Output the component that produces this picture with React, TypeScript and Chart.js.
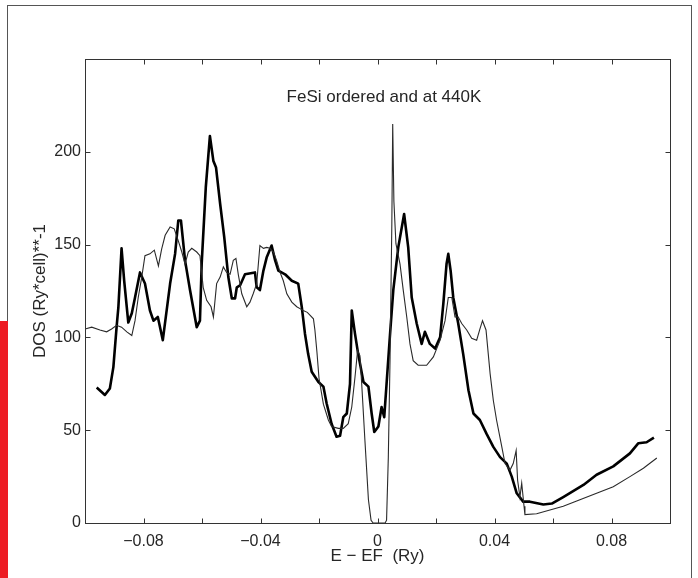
import React, { useEffect, useRef } from "react";
import { Chart, registerables } from "chart.js";

Chart.register(...registerables);

// Ordered FeSi (thick curve): energy E - EF (Ry) and DOS
const thickE = [
  -0.0960, -0.0932, -0.0915, -0.0903, -0.0892, -0.0886, -0.0875, -0.0866, -0.0852, -0.0840,
  -0.0829, -0.0812, -0.0795, -0.0778, -0.0766, -0.0751, -0.0734, -0.0709, -0.0692, -0.0681,
  -0.0672, -0.0658, -0.0641, -0.0618, -0.0607, -0.0601, -0.0587, -0.0573, -0.0561, -0.0552,
  -0.0538, -0.0524, -0.0510, -0.0498, -0.0487, -0.0481, -0.0470, -0.0453, -0.0419, -0.0413,
  -0.0402, -0.0390, -0.0379, -0.0362, -0.0350, -0.0339, -0.0316, -0.0293, -0.0271, -0.0259,
  -0.0248, -0.0237, -0.0225, -0.0202, -0.0185, -0.0174, -0.0157, -0.0140, -0.0128, -0.0117,
  -0.0105, -0.0094, -0.0088, -0.0077, -0.0066, -0.0048, -0.0031, -0.0020, -0.0011, 0.0003,
  0.0014, 0.0023, 0.0031, 0.0043, 0.0054, 0.0071, 0.0091, 0.0105, 0.0117, 0.0134,
  0.0151, 0.0162, 0.0179, 0.0197, 0.0214, 0.0225, 0.0236, 0.0242, 0.0250, 0.0259,
  0.0276, 0.0293, 0.0311, 0.0328, 0.0350, 0.0373, 0.0396, 0.0419, 0.0442, 0.0459,
  0.0476, 0.0498, 0.0521, 0.0567, 0.0596, 0.0635, 0.0704, 0.0749, 0.0806, 0.0863,
  0.0892, 0.0920, 0.0945,
];
const thickDOS = [
  73, 69, 72.5, 84, 105.5, 116, 148, 130.5, 108, 113,
  121.5, 135, 129, 114.5, 109, 111, 98.5, 129, 145, 163,
  163, 141.5, 125.5, 105.5, 109, 140, 181, 208.5, 195, 191.5,
  172, 154, 132.5, 121, 121, 127, 128, 134, 135, 127,
  125.5, 136, 143, 149.5, 141.5, 136, 134, 130.5, 129, 116.5,
  102, 91, 81.5, 76, 73.5, 64.5, 53.5, 46.5, 47, 57,
  59, 75, 114.5, 102, 91, 76, 73.5, 59, 49, 52,
  62.5, 57, 75, 102, 125.5, 148.5, 166.5, 148.5, 121.5, 107.5,
  96.5, 103, 96.5, 94, 100, 118, 139.5, 145, 136, 121.5,
  107.5, 91, 71.5, 59, 55.5, 48, 41, 35.5, 32, 25,
  16, 11.5, 11.5, 10, 10.5, 14, 20.5, 26, 30.5, 37.5,
  43, 43.5, 46,
];

// 440 K (thin curve)
const thinE = [
  -0.1000, -0.0977, -0.0949, -0.0926, -0.0909, -0.0892, -0.0875, -0.0857, -0.0840, -0.0829,
  -0.0818, -0.0806, -0.0795, -0.0778, -0.0763, -0.0749, -0.0738, -0.0726, -0.0709, -0.0695,
  -0.0681, -0.0669, -0.0658, -0.0647, -0.0635, -0.0618, -0.0607, -0.0596, -0.0584, -0.0569,
  -0.0561, -0.0550, -0.0538, -0.0527, -0.0516, -0.0504, -0.0493, -0.0484, -0.0476, -0.0464,
  -0.0447, -0.0436, -0.0425, -0.0413, -0.0402, -0.0390, -0.0379, -0.0368, -0.0356, -0.0345,
  -0.0333, -0.0322, -0.0310, -0.0293, -0.0276, -0.0265, -0.0254, -0.0240, -0.0231, -0.0219,
  -0.0214, -0.0207, -0.0200, -0.0185, -0.0168, -0.0157, -0.0134, -0.0117, -0.0100, -0.0088,
  -0.0077, -0.0068, -0.0060, -0.0054, -0.0043, -0.0031, -0.0022, -0.0015, 0.0026, 0.0031,
  0.0037, 0.0043, 0.0049, 0.0052, 0.0056, 0.0063, 0.0077, 0.0088, 0.0100, 0.0111,
  0.0122, 0.0139, 0.0168, 0.0191, 0.0214, 0.0231, 0.0242, 0.0254, 0.0265, 0.0276,
  0.0288, 0.0305, 0.0322, 0.0339, 0.0350, 0.0359, 0.0371, 0.0385, 0.0396, 0.0407,
  0.0425, 0.0436, 0.0453, 0.0464, 0.0474, 0.0479, 0.0487, 0.0493, 0.0501, 0.0504,
  0.0544, 0.0635, 0.0692, 0.0749, 0.0806, 0.0863, 0.0909, 0.0955,
];
const thinDOS = [
  104.5, 105.5, 104, 103, 104.5, 106.5, 105.5, 103, 101, 109,
  121.5, 132.5, 144, 145, 147, 138.5, 147.5, 155, 159.5, 158.5,
  152, 146, 139.5, 146, 148, 146, 144, 127, 120, 116.5,
  111, 129, 132.5, 138, 135, 134, 141.5, 142.5, 134, 123.5,
  116.5, 119, 123.5, 129, 149.5, 148, 148.5, 148, 146, 141.5,
  135, 130.5, 123.5, 119, 116.5, 115.5, 114.5, 113.5, 112, 110,
  104, 92, 78, 64, 55.5, 52, 51, 51, 53.5, 62.5,
  78.5, 93, 90, 75, 44.5, 12.5, 1.5, 0, 0, 1.5,
  35.5, 89.5, 161, 215, 173.5, 150.5, 139.5, 125.5, 111, 96.5,
  87.5, 85, 85, 89.5, 98.5, 109, 121.5, 121.5, 111, 111,
  107.5, 104, 99.5, 98.5, 104.5, 109, 104, 80.5, 66, 55.5,
  41, 32, 28.5, 32, 39, 23, 14, 21.5, 9, 4.5,
  5, 9, 12.5, 16, 19.5, 25, 29.5, 35,
];

const xTickLabels = [-0.08, -0.04, 0, 0.04, 0.08];
const yTickLabels = [0, 50, 100, 150, 200];
const chartTitle = "FeSi ordered and at 440K";
const xTitle = "E \u2212 EF  (Ry)";
const yTitle = "DOS (Ry*cell)**-1";

const FONT = "'Liberation Sans', Arial, Helvetica, sans-serif";
const TEXT = "#262626";

const fmt = (v: number) => {
  const r = Math.round(v * 100) / 100;
  return String(r).replace("-", "\u2212");
};

const boxPlugin = {
  id: "matlabBox",
  afterDatasetsDraw(chart: any) {
    const { ctx, chartArea: a, scales } = chart;
    const xs = scales.x;
    const ys = scales.y;
    ctx.save();
    ctx.strokeStyle = "#333";
    ctx.lineWidth = 1;
    const L = Math.round(a.left) + 0.5;
    const R = Math.round(a.right) + 0.5;
    const T = Math.round(a.top) + 0.5;
    const B = Math.round(a.bottom) + 0.5;
    ctx.strokeRect(L, T, R - L, B - T);
    const tl = 5;
    ctx.beginPath();
    xs.ticks.forEach((t: any) => {
      const p = Math.round(xs.getPixelForValue(t.value)) + 0.5;
      if (p <= L + 1 || p >= R - 1) return;
      ctx.moveTo(p, B);
      ctx.lineTo(p, B - tl);
      ctx.moveTo(p, T);
      ctx.lineTo(p, T + tl);
    });
    ys.ticks.forEach((t: any) => {
      const p = Math.round(ys.getPixelForValue(t.value)) + 0.5;
      if (p <= T + 1 || p >= B - 1) return;
      ctx.moveTo(L, p);
      ctx.lineTo(L + tl, p);
      ctx.moveTo(R, p);
      ctx.lineTo(R - tl, p);
    });
    ctx.stroke();
    // in-axes title
    ctx.fillStyle = TEXT;
    ctx.font = `17px ${FONT}`;
    ctx.textAlign = "center";
    ctx.textBaseline = "middle";
    ctx.fillText(chartTitle, xs.getPixelForValue(0.0022), ys.getPixelForValue(229.5));
    ctx.restore();
  },
};

export default function App() {
  const ref = useRef<HTMLCanvasElement | null>(null);

  useEffect(() => {
    if (!ref.current) return;
    const thick = thickE.map((x, i) => ({ x, y: thickDOS[i] }));
    const thin = thinE.map((x, i) => ({ x, y: thinDOS[i] }));
    const chart = new Chart(ref.current, {
      type: "line",
      data: {
        datasets: [
          {
            label: "440K",
            data: thin,
            borderColor: "#2a2a2a",
            borderWidth: 1.1,
            pointRadius: 0,
            tension: 0,
            fill: false,
          },
          {
            label: "ordered",
            data: thick,
            borderColor: "#000000",
            borderWidth: 2.6,
            borderJoinStyle: "round",
            pointRadius: 0,
            tension: 0,
            fill: false,
          },
        ],
      },
      options: {
        responsive: false,
        animation: false,
        devicePixelRatio: 1,
        layout: { padding: { left: 0, right: 28, top: 59, bottom: 0 } },
        plugins: {
          legend: { display: false },
          tooltip: { enabled: false },
          title: { display: false },
        },
        scales: {
          x: {
            type: "linear",
            min: -0.1,
            max: 0.1,
            grid: { display: false, drawTicks: false },
            border: { display: false },
            ticks: {
              stepSize: 0.02,
              autoSkip: false,
              maxRotation: 0,
              padding: 9,
              color: TEXT,
              font: { family: FONT, size: 16 },
              callback: (v: any) =>
                xTickLabels.some((l) => Math.abs(l - Number(v)) < 1e-9) ? fmt(Number(v)) : "",
            },
            title: {
              display: true,
              text: xTitle,
              color: TEXT,
              font: { family: FONT, size: 17 },
              padding: { top: 0, bottom: 11 },
            },
            afterFit: (s: any) => {
              s.height = 55;
            },
          },
          y: {
            type: "linear",
            min: 0,
            max: 250,
            grid: { display: false, drawTicks: false },
            border: { display: false },
            ticks: {
              stepSize: 50,
              padding: 4,
              color: TEXT,
              font: { family: FONT, size: 16 },
              callback: (v: any) =>
                yTickLabels.some((l) => Math.abs(l - Number(v)) < 1e-9) ? String(v) : "",
            },
            title: {
              display: true,
              text: yTitle,
              color: TEXT,
              font: { family: FONT, size: 17 },
              padding: { top: 30, bottom: 0 },
            },
            afterFit: (s: any) => {
              s.width = 85;
            },
          },
        },
      },
      plugins: [boxPlugin],
    } as any);
    return () => chart.destroy();
  }, []);

  return (
    <div
      style={{
        position: "fixed",
        left: 0,
        top: 0,
        width: 698,
        height: 578,
        background: "#fff",
        overflow: "hidden",
      }}
    >
      <div
        style={{
          position: "absolute",
          left: 7,
          top: 5,
          width: 685,
          height: 600,
          border: "1px solid #555",
          boxSizing: "border-box",
        }}
      />
      <div
        style={{
          position: "absolute",
          left: 0,
          top: 321,
          width: 8,
          height: 257,
          background: "#ED1C24",
        }}
      />
      <canvas
        ref={ref}
        width={698}
        height={578}
        style={{ position: "absolute", left: 0, top: 0, width: 698, height: 578 }}
      />
    </div>
  );
}
